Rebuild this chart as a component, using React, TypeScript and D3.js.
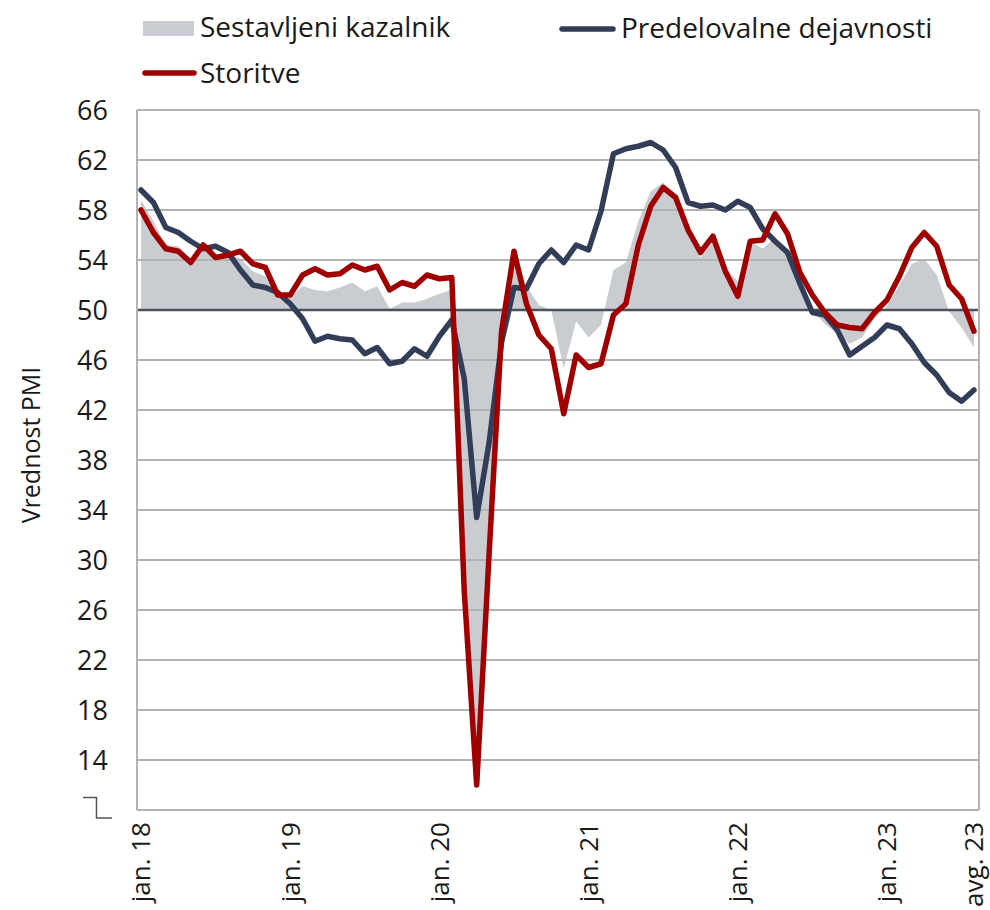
import React from "react";
import * as d3 from "d3";

// mesečni podatki jan. 2018 – avg. 2023
const months = d3.range(68);
const tickIdx = [0, 12, 24, 36, 48, 60, 67];
const tickLabels = ["jan. 18", "jan. 19", "jan. 20", "jan. 21", "jan. 22", "jan. 23", "avg. 23"];
const yTicks = [14, 18, 22, 26, 30, 34, 38, 42, 46, 50, 54, 58, 62, 66];

const composite = [
  58.8, 57.1, 55.2, 55.1, 54.1, 54.9, 54.3, 54.5, 54.1, 53.1, 52.7, 51.1,
  51.0, 51.9, 51.6, 51.5, 51.8, 52.2, 51.5, 51.9, 50.1, 50.6, 50.6, 50.9,
  51.3, 51.6, 29.7, 13.6, 31.9, 48.5, 54.9, 51.9, 50.4, 50.0, 45.3, 49.1,
  47.8, 48.8, 53.2, 53.8, 57.1, 59.5, 60.2, 59.0, 56.2, 54.2, 55.4, 53.3,
  52.3, 55.5, 54.9, 55.8, 54.8, 52.0, 49.9, 48.9, 48.1, 47.3, 47.8, 49.3,
  50.3, 52.0, 53.7, 54.1, 52.8, 49.9, 48.6, 47.0
];
const manufacturing = [
  59.6, 58.6, 56.6, 56.2, 55.5, 54.9, 55.1, 54.6, 53.2, 52.0, 51.8, 51.4,
  50.5, 49.3, 47.5, 47.9, 47.7, 47.6, 46.5, 47.0, 45.7, 45.9, 46.9, 46.3,
  47.9, 49.2, 44.5, 33.4, 39.4, 47.4, 51.8, 51.7, 53.7, 54.8, 53.8, 55.2,
  54.8, 57.9, 62.5, 62.9, 63.1, 63.4, 62.8, 61.4, 58.6, 58.3, 58.4, 58.0,
  58.7, 58.2, 56.5, 55.5, 54.6, 52.1, 49.8, 49.6, 48.4, 46.4, 47.1, 47.8,
  48.8, 48.5, 47.3, 45.8, 44.8, 43.4, 42.7, 43.6
];
const services = [
  58.0, 56.2, 54.9, 54.7, 53.8, 55.2, 54.2, 54.4, 54.7, 53.7, 53.4, 51.2,
  51.2, 52.8, 53.3, 52.8, 52.9, 53.6, 53.2, 53.5, 51.6, 52.2, 51.9, 52.8,
  52.5, 52.6, 27.5, 12.0, 30.5, 48.3, 54.7, 50.5, 48.0, 46.9, 41.7, 46.4,
  45.4, 45.7, 49.6, 50.5, 55.2, 58.3, 59.8, 59.0, 56.4, 54.6, 55.9, 53.1,
  51.1, 55.5, 55.6, 57.7, 56.1, 53.0, 51.2, 49.8, 48.8, 48.6, 48.5, 49.8,
  50.8, 52.7, 55.0, 56.2, 55.1, 52.0, 50.9, 48.3
];

const FONT = "'Open Sans', sans-serif";
const NAVY = "#323d58";
const RED = "#a00000";
const AREA = "#c9ccd1";
const GRID = "#b3b3b3";

export default function App() {
  const width = 990;
  const height = 910;
  const left = 137;
  const right = 979;
  const top = 110;
  const bottom = 810;

  const x = d3.scaleLinear().domain([0, 67]).range([141, 974]);
  const y = d3.scaleLinear().domain([10, 66]).range([bottom, top]);

  const area = d3
    .area<number>()
    .x((d, i) => x(months[i]))
    .y0(y(50))
    .y1(d => y(d));
  const line = d3
    .line<number>()
    .x((d, i) => x(months[i]))
    .y(d => y(d));

  return (
    <svg
      width={width}
      height={height}
      style={{ position: "absolute", left: 0, top: 0, background: "#fff" }}
      fontFamily={FONT}
    >
      <path d={area(composite) || ""} fill={AREA} />

      {yTicks.map(t => (
        <line
          key={t}
          x1={left}
          x2={right}
          y1={y(t)}
          y2={y(t)}
          stroke={t === 50 ? "#4b525c" : GRID}
          strokeWidth={t === 50 ? 2.5 : 2}
        />
      ))}
      <line x1={left} x2={left} y1={top} y2={bottom} stroke={GRID} strokeWidth={2} />
      <line x1={right} x2={right} y1={top} y2={bottom} stroke={GRID} strokeWidth={2} />
      <line x1={left} x2={right} y1={bottom} y2={bottom} stroke={GRID} strokeWidth={2} />

      <path d={line(manufacturing) || ""} fill="none" stroke={NAVY} strokeWidth={5.5} strokeLinejoin="round" strokeLinecap="round" />
      <path d={line(services) || ""} fill="none" stroke={RED} strokeWidth={5.5} strokeLinejoin="round" strokeLinecap="round" />

      {/* y os */}
      {yTicks.map(t => (
        <text key={t} x={108} y={y(t)} dy="0.36em" textAnchor="end" fontSize={27} fill="#1a1a1a">
          {t}
        </text>
      ))}
      <path d="M83,797.5 H96.5 V818 H112" fill="none" stroke="#555" strokeWidth={1.5} />
      <text
        transform={`translate(40,445) rotate(-90)`}
        textAnchor="middle"
        fontSize={25}
        fill="#1a1a1a"
      >
        Vrednost PMI
      </text>

      {/* x os */}
      {tickIdx.map((t, i) => (
        <text
          key={t}
          transform={`translate(${x(t)},822) rotate(-90)`}
          dy="0.36em"
          textAnchor="end"
          fontSize={26}
          fill="#1a1a1a"
        >
          {tickLabels[i]}
        </text>
      ))}

      {/* legenda */}
      <rect x={143} y={21} width={51} height={15} fill={AREA} />
      <text x={200} y={37} fontSize={28} fill="#1a1a1a">Sestavljeni kazalnik</text>
      <line x1={562} x2={613} y1={29} y2={29} stroke={NAVY} strokeWidth={5.5} strokeLinecap="round" />
      <text x={621} y={38} fontSize={28} fill="#1a1a1a">Predelovalne dejavnosti</text>
      <line x1={145} x2={194} y1={73} y2={73} stroke={RED} strokeWidth={5.5} strokeLinecap="round" />
      <text x={200} y={83} fontSize={28} fill="#1a1a1a">Storitve</text>
    </svg>
  );
}
